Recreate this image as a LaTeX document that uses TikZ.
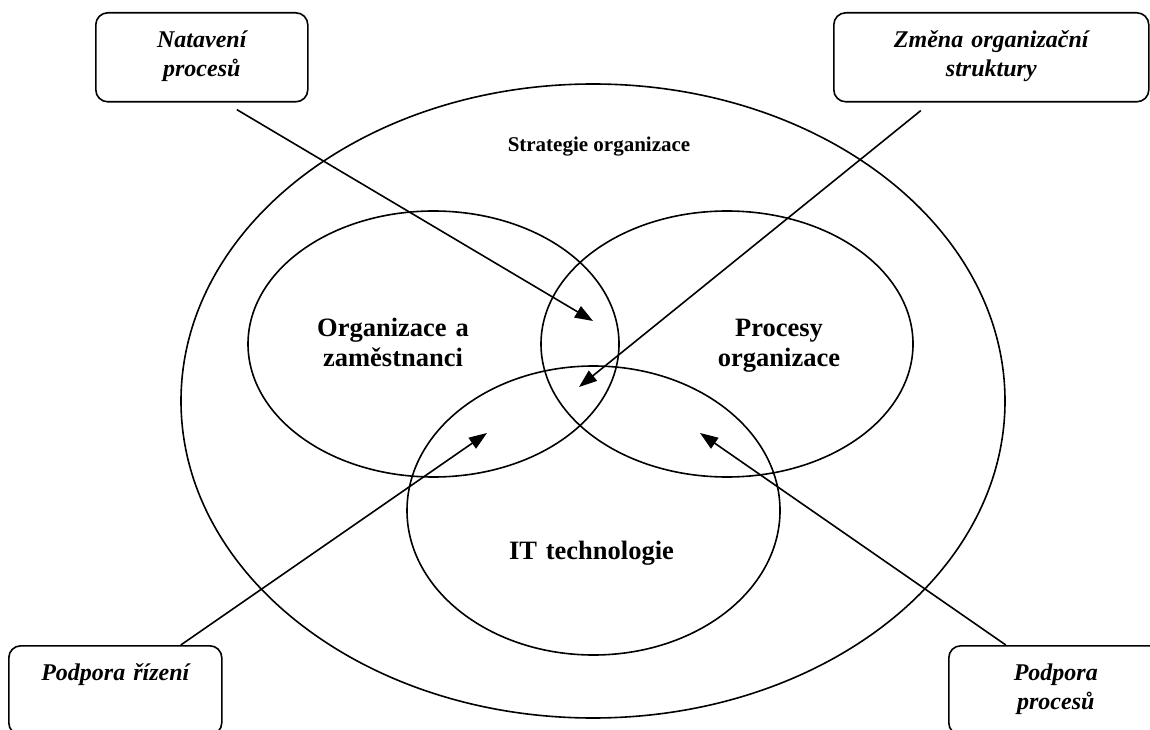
\documentclass[tikz,border=0pt]{standalone}
\usepackage{fontspec}
\setmainfont{Liberation Serif}
\usepackage{tikz}
\usetikzlibrary{arrows.meta}

\begin{document}
\begin{tikzpicture}[x=1pt,y=1pt,->,>={Triangle[length=18pt,width=13pt]},line width=1.6pt,
box node/.style={draw,rounded corners=12pt,inner sep=0pt,align=center,anchor=north west,
  font=\fontsize{24}{29}\selectfont\bfseries\itshape,text height=35pt,text depth=54pt},
set label/.style={font=\fontsize{26.5}{30}\selectfont\bfseries,align=center,text width=220pt,anchor=base}]
\useasboundingbox (0,0) rectangle (1150,729);

% Outer ellipse
  \draw[-] (593,328) ellipse (412pt and 317pt);
  \node (strat) at (599,577) [anchor=base,font=\fontsize{21}{25}\selectfont\bfseries] {Strategie organizace};

% three inner sets
  \draw[-] (433.5,385) ellipse (185.5pt and 133pt);
  \draw[-] (727,385) ellipse (186pt and 133pt);
  \draw[-] (593.5,218.5) ellipse (186.5pt and 144.5pt);

  \node[set label] (orgzam) at (393,392) {Organizace a\\zaměstnanci};
  \node[set label] (procorg) at (779,392) {Procesy\\organizace};
  \node[set label] (ittech) at (591.5,170) {IT technologie};

% boxes in the corners
  \node[box node,text width=212pt] (natav) at (95,717) {Natavení\\procesů};
  \node[box node,text width=315pt] (zmena) at (833,717) {Změna organizační\\struktury};
  \node[box node,text width=213pt] (rizeni) at (8,84) {Podpora řízení};
  \node[box node,text width=214pt] (podproc) at (948,84) {Podpora\\procesů};

% where the arrows end
  \coordinate (tipA) at (593,408);
  \coordinate (tipB) at (579,342);
  \coordinate (tipC) at (487,296);
  \coordinate (tipD) at (700,296);

  \path
    ([shift={(35,-7)}]natav.south) edge (tipA)
    ([shift={(-70.5,-8)}]zmena.south) edge (tipB)
    ([shift={(65.5,0)}]rizeni.north) edge (tipC)
    ([shift={(-50,0)}]podproc.north) edge (tipD);

\end{tikzpicture}
\end{document}
